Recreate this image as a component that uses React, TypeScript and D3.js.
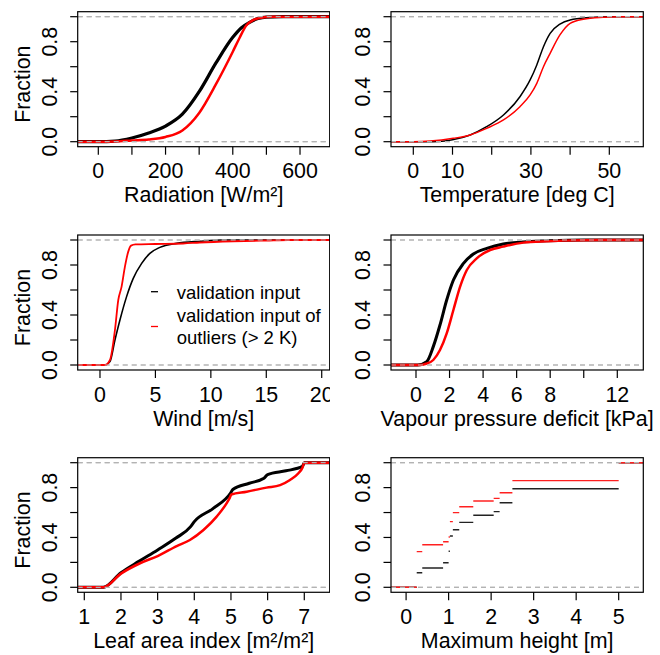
import React from "react";
import * as d3 from "d3";

// ---------- data ----------
const radTicks = [0, 100, 200, 300, 400, 500, 600];
const radLabels = [0, 200, 400, 600];
const radBlackX = [0, 50, 100, 150, 200, 250, 300, 350, 400, 425, 450, 475, 500, 550];
const radBlackY = [0, 0.005, 0.03, 0.07, 0.125, 0.22, 0.4, 0.63, 0.835, 0.91, 0.955, 0.985, 0.997, 1];
const radRedX = [0, 50, 100, 150, 200, 250, 300, 350, 400, 420, 440, 460, 480, 520];
const radRedY = [0, 0.002, 0.01, 0.018, 0.038, 0.09, 0.23, 0.46, 0.72, 0.83, 0.93, 0.972, 0.99, 1];

const tempTicks = [0, 10, 20, 30, 40, 50];
const tempLabels = [0, 10, 30, 50];
const tempBlackX = [5, 8, 10, 14.5, 18.7, 23, 27.2, 29.8, 31.5, 33.2, 34.9, 37.4, 40, 45, 50];
const tempBlackY = [0, 0.005, 0.015, 0.054, 0.12, 0.214, 0.36, 0.494, 0.614, 0.76, 0.867, 0.94, 0.974, 0.993, 1];
const tempRedX = [0, 4.3, 10.2, 14.5, 18.7, 23, 27.2, 29.8, 31.5, 33.2, 34.9, 37.4, 40, 43.4, 48.5, 52];
const tempRedY = [0, 0.005, 0.027, 0.054, 0.107, 0.174, 0.28, 0.374, 0.467, 0.6, 0.707, 0.854, 0.947, 0.98, 0.995, 1];

const windTicks = [0, 5, 10, 15, 20];
const windLabels = [0, 5, 10, 15, 20];
const windBlackX = [0.45, 0.9, 1.35, 1.8, 2.4, 3.0, 3.76, 4.5, 5.4, 6.9, 9.0, 11];
const windBlackY = [0, 0.027, 0.2, 0.36, 0.547, 0.693, 0.813, 0.893, 0.941, 0.973, 0.99, 1];
const windRedX = [0.45, 0.9, 1.35, 1.65, 1.95, 2.25, 2.55, 2.8, 3.2, 5, 7.5, 9, 12, 15, 17];
const windRedY = [0, 0.04, 0.28, 0.52, 0.627, 0.787, 0.907, 0.955, 0.965, 0.968, 0.972, 0.98, 0.99, 0.996, 1];

const vpdTicks = [0, 2, 4, 6, 8, 10, 12];
const vpdLabels = [0, 2, 4, 6, 8, 12];
const vpdBlackX = [0.1, 0.64, 1.03, 1.43, 1.83, 2.23, 2.83, 3.42, 4.22, 5.2, 6.4, 7.8, 10];
const vpdBlackY = [0, 0.027, 0.147, 0.32, 0.52, 0.68, 0.813, 0.888, 0.933, 0.968, 0.985, 0.993, 1];
const vpdRedX = [0.2, 0.6, 1.03, 1.43, 1.83, 2.23, 2.63, 3.03, 3.62, 4.42, 5.2, 6.4, 7.8, 8.8, 11];
const vpdRedY = [0, 0.01, 0.04, 0.12, 0.253, 0.44, 0.627, 0.76, 0.853, 0.92, 0.947, 0.979, 0.99, 0.995, 1];

const laiTicks = [1, 2, 3, 4, 5, 6, 7];
const laiLabels = [1, 2, 3, 4, 5, 6, 7];
const laiBlackX = [1.52, 2, 2.5, 3, 3.5, 3.9, 4.0, 4.5, 4.99, 5.05, 5.5, 5.9, 6.0, 6.5, 6.95, 7.0];
const laiBlackY = [0, 0.117, 0.21, 0.3, 0.395, 0.487, 0.527, 0.63, 0.757, 0.785, 0.835, 0.875, 0.905, 0.935, 0.97, 1];
const laiRedX = [1.52, 2, 2.52, 3, 3.52, 3.88, 4.25, 4.61, 4.88, 4.97, 5.01, 5.43, 5.97, 6.34, 6.61, 6.84, 6.95, 7.0];
const laiRedY = [0, 0.11, 0.193, 0.251, 0.331, 0.38, 0.46, 0.567, 0.674, 0.72, 0.745, 0.767, 0.8, 0.82, 0.861, 0.915, 0.96, 1];

const hTicks = [0, 1, 2, 3, 4, 5];
const hLabels = [0, 1, 2, 3, 4, 5];
const hKnots = [0.25, 0.38, 0.87, 1.0, 1.03, 1.1, 1.25, 1.58, 2.06, 2.2, 2.5, 5.0];
const hBlackY = [0.117, 0.155, 0.197, 0.289, 0.412, 0.462, 0.521, 0.578, 0.607, 0.679, 0.791, 1];
const hRedY = [0.286, 0.342, 0.366, 0.404, 0.527, 0.599, 0.647, 0.693, 0.714, 0.759, 0.856, 1];

const yTicks = [0, 0.2, 0.4, 0.6, 0.8, 1.0];
const yLabels = [0, 0.4, 0.8];
const legendLabels = ["validation input", "validation input of", "outliers (> 2 K)"];
const titles = [
  "Radiation [W/m²]",
  "Temperature [deg C]",
  "Wind [m/s]",
  "Vapour pressure deficit [kPa]",
  "Leaf area index [m²/m²]",
  "Maximum height [m]",
];

// ---------- layout ----------
const FONT = "'Liberation Sans', Arial, Helvetica, sans-serif";
const FS = 21.4;
const COLS = [
  { left: 77.7, right: 329.7 },
  { left: 391, right: 643.3 },
];
const ROWS = [
  { top: 16.7, bottom: 141.7 },
  { top: 240, bottom: 365 },
  { top: 462.7, bottom: 587.3 },
];
const BLACK = "#000000";
const RED = "#ff0000";
const GRAY = "#b3b3b3";

type Line = { x: number[]; y: number[]; color: string; width: number };

type PanelProps = {
  col: number;
  row: number;
  domain: [number, number];
  ticks: number[];
  labels: number[];
  title: string;
  lines?: Line[];
  steps?: { knots: number[]; series: { y: number[]; color: string; width: number }[] };
  ylab?: boolean;
  legend?: boolean;
  id: string;
};

function Panel(props: PanelProps) {
  const { col, row, domain, ticks, labels, title, lines, steps, ylab, legend, id } = props;
  const c = COLS[col];
  const r = ROWS[row];
  const x = d3.scaleLinear().domain(domain).range([c.left, c.right]);
  const y = d3.scaleLinear().domain([0, 1]).range([r.bottom, r.top]);
  const boxTop = y(1.04);
  const boxBottom = y(-0.04);
  const line = d3
    .line<[number, number]>()
    .x((d) => x(d[0]))
    .y((d) => y(d[1]))
    .curve(d3.curveMonotoneX);

  const dashed = (k: string) => (
    <g key={k}>
      {[0, 1].map((v) => (
        <line
          key={v}
          x1={c.left}
          x2={c.right}
          y1={y(v)}
          y2={y(v)}
          stroke={GRAY}
          strokeWidth={1.2}
          strokeDasharray="5,4"
        />
      ))}
    </g>
  );

  const layers: React.ReactNode[] = [];
  if (lines) {
    lines.forEach((s, i) => {
      const pts: [number, number][] = [[domain[0], 0]];
      s.x.forEach((xv, j) => pts.push([xv, s.y[j]]));
      pts.push([domain[1], 1]);
      layers.push(
        <path
          key={"l" + i}
          d={line(pts) || ""}
          fill="none"
          stroke={s.color}
          strokeWidth={s.width}
          strokeLinejoin="round"
        />
      );
      layers.push(dashed("d" + i));
    });
  }
  if (steps) {
    steps.series.forEach((s, i) => {
      const segs: [number, number, number][] = [[domain[0], steps.knots[0], 0]];
      steps.knots.forEach((k, j) => {
        const next = j + 1 < steps.knots.length ? steps.knots[j + 1] : domain[1];
        segs.push([k, next, s.y[j]]);
      });
      layers.push(
        <g key={"s" + i}>
          {segs.map((sg, j) => (
            <line
              key={j}
              x1={x(sg[0])}
              x2={x(sg[1])}
              y1={y(sg[2])}
              y2={y(sg[2])}
              stroke={s.color}
              strokeWidth={s.width}
            />
          ))}
        </g>
      );
      layers.push(dashed("sd" + i));
    });
  }

  const cx = (c.left + c.right) / 2;
  return (
    <g>
      <defs>
        <clipPath id={id}>
          <rect x={c.left} y={boxTop} width={c.right - c.left} height={boxBottom - boxTop} />
        </clipPath>
      </defs>
      <g clipPath={`url(#${id})`}>{layers}</g>
      <rect
        x={c.left}
        y={boxTop}
        width={c.right - c.left}
        height={boxBottom - boxTop}
        fill="none"
        stroke="#000"
        strokeWidth={1.2}
      />
      {ticks.map((t) => (
        <line key={"xt" + t} x1={x(t)} x2={x(t)} y1={boxBottom} y2={boxBottom + 8} stroke="#000" strokeWidth={1.2} />
      ))}
      {labels.map((t) => (
        <text key={"xl" + t} x={x(t)} y={boxBottom + 31.5} textAnchor="middle" fontSize={FS} fill="#000">
          {String(t)}
        </text>
      ))}
      {yTicks.map((t) => (
        <line key={"yt" + t} x1={c.left - 7.5} x2={c.left} y1={y(t)} y2={y(t)} stroke="#000" strokeWidth={1.2} />
      ))}
      {yLabels.map((t) => (
        <text
          key={"yl" + t}
          transform={`translate(${c.left - 21},${y(t)}) rotate(-90)`}
          textAnchor="middle"
          fontSize={FS}
          fill="#000"
        >
          {t.toFixed(1)}
        </text>
      ))}
      {ylab && (
        <text
          transform={`translate(30,${(r.top + r.bottom) / 2 + 5}) rotate(-90)`}
          textAnchor="middle"
          fontSize={FS}
          fill="#000"
        >
          Fraction
        </text>
      )}
      <text x={cx} y={boxBottom + 55.5} textAnchor="middle" fontSize={FS} fill="#000">
        {title}
      </text>
      {legend && (
        <g fontSize={18.5} fill="#000">
          <line x1={151} x2={158} y1={291.7} y2={291.7} stroke={BLACK} strokeWidth={1.3} />
          <line x1={151} x2={158} y1={326.5} y2={326.5} stroke={RED} strokeWidth={1.3} />
          <text x={176.7} y={299}>{legendLabels[0]}</text>
          <text x={176.7} y={321.7}>{legendLabels[1]}</text>
          <text x={176.7} y={344}>{legendLabels[2]}</text>
        </g>
      )}
    </g>
  );
}

export default function App() {
  return (
    <svg
      width={660}
      height={655}
      viewBox="0 0 660 655"
      style={{ position: "absolute", left: 0, top: 0, background: "#fff" }}
      fontFamily={FONT}
    >
      <rect x={0} y={0} width={660} height={655} fill="#fff" />
      <defs>
        <clipPath id="col1clip">
          <rect x={0} y={0} width={330} height={655} />
        </clipPath>
      </defs>
      <g clipPath="url(#col1clip)">
        <Panel
          id="p1"
          col={0}
          row={0}
          domain={[-61.3, 688.3]}
          ticks={radTicks}
          labels={radLabels}
          title={titles[0]}
          lines={[
            { x: radBlackX, y: radBlackY, color: BLACK, width: 3.2 },
            { x: radRedX, y: radRedY, color: RED, width: 2.5 },
          ]}
          ylab
        />
        <Panel
          id="p3"
          col={0}
          row={1}
          domain={[-2.01, 20.72]}
          ticks={windTicks}
          labels={windLabels}
          title={titles[2]}
          lines={[
            { x: windBlackX, y: windBlackY, color: BLACK, width: 1.6 },
            { x: windRedX, y: windRedY, color: RED, width: 1.8 },
          ]}
          ylab
          legend
        />
        <Panel
          id="p5"
          col={0}
          row={2}
          domain={[0.82, 7.693]}
          ticks={laiTicks}
          labels={laiLabels}
          title={titles[4]}
          lines={[
            { x: laiBlackX, y: laiBlackY, color: BLACK, width: 3 },
            { x: laiRedX, y: laiRedY, color: RED, width: 2.5 },
          ]}
          ylab
        />
      </g>
      <Panel
        id="p2"
        col={1}
        row={0}
        domain={[-5.69, 58.67]}
        ticks={tempTicks}
        labels={tempLabels}
        title={titles[1]}
        lines={[
          { x: tempBlackX, y: tempBlackY, color: BLACK, width: 1.5 },
          { x: tempRedX, y: tempRedY, color: RED, width: 1.5 },
        ]}
      />
      <Panel
        id="p4"
        col={1}
        row={1}
        domain={[-1.49, 13.55]}
        ticks={vpdTicks}
        labels={vpdLabels}
        title={titles[3]}
        lines={[
          { x: vpdBlackX, y: vpdBlackY, color: BLACK, width: 3 },
          { x: vpdRedX, y: vpdRedY, color: RED, width: 2.5 },
        ]}
      />
      <Panel
        id="p6"
        col={1}
        row={2}
        domain={[-0.355, 5.579]}
        ticks={hTicks}
        labels={hLabels}
        title={titles[5]}
        steps={{
          knots: hKnots,
          series: [
            { y: hBlackY, color: "#222", width: 1.4 },
            { y: hRedY, color: "#ff2020", width: 1.4 },
          ],
        }}
      />
    </svg>
  );
}
